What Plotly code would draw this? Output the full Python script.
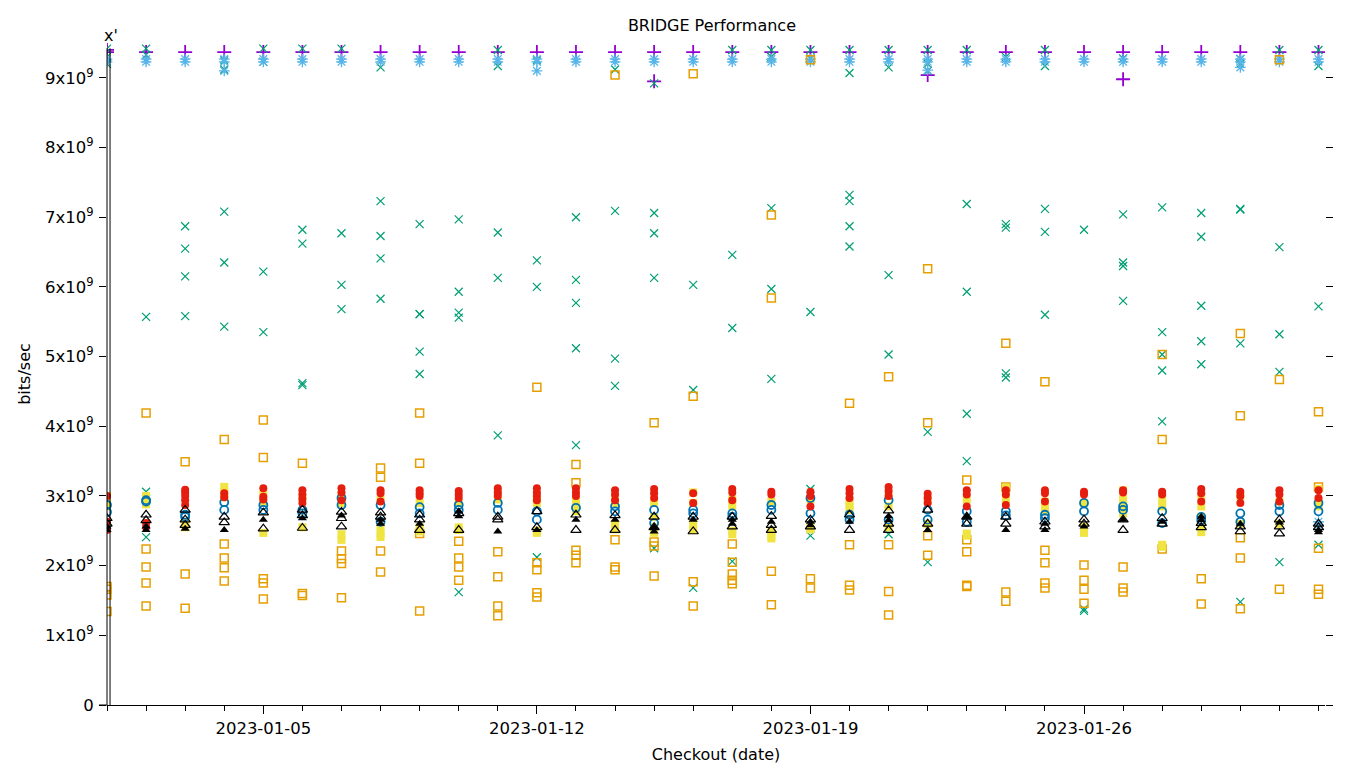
import pandas as pd
import plotly.graph_objects as go

days = pd.date_range("2023-01-01", "2023-02-01", freq="D")

# values in units of 1e9 bits/sec, one list per day
purple_plus = [[9.40, 9.37]] + [[9.37] for _ in range(31)]
purple_plus[14] = [9.37, 8.95]
purple_plus[21] = [9.37, 9.04]
purple_plus[26] = [9.37, 8.98]

green_x = [
    [9.42, 9.30, 9.20], [9.42, 9.33, 5.57, 3.06, 2.41], [6.87, 6.55, 6.15, 5.58],
    [9.25, 9.12, 7.08, 6.35, 5.43], [9.42, 9.23, 6.22, 5.35], [9.42, 6.82, 6.62, 4.62, 4.59],
    [9.42, 6.77, 6.03, 5.68], [9.15, 7.23, 6.73, 6.41, 5.83], [6.90, 5.61, 5.61, 5.07, 4.75],
    [6.97, 5.93, 5.63, 5.56, 1.62], [9.40, 9.17, 6.78, 6.13, 3.87], [9.25, 6.38, 6.00, 2.12],
    [7.00, 6.10, 5.77, 5.12, 3.73], [9.12, 7.09, 4.97, 4.58], [8.92, 7.06, 6.77, 6.13, 2.25],
    [6.03, 4.52, 1.68], [9.40, 6.46, 5.41, 2.06], [9.40, 9.30, 7.13, 5.97, 4.68],
    [9.40, 9.28, 5.64, 3.10, 2.43], [9.40, 9.07, 7.32, 7.23, 6.87, 6.58], [9.40, 9.15, 6.17, 5.03, 2.45],
    [9.40, 9.20, 9.10, 3.92, 2.05], [9.40, 7.19, 5.93, 4.18, 3.50], [9.30, 6.90, 6.85, 4.76, 4.70],
    [9.40, 9.17, 7.12, 6.79, 5.60], [6.82, 1.38, 1.35], [9.28, 7.04, 6.35, 6.30, 5.80],
    [7.14, 5.35, 5.03, 4.80, 4.07], [7.06, 6.72, 5.73, 5.22, 4.89], [9.27, 9.20, 7.12, 7.11, 5.19, 1.48],
    [9.40, 6.57, 5.32, 4.78, 2.05], [9.40, 9.17, 5.72, 2.30],
]

blue_star = [[9.27, 9.23] for _ in range(32)]
blue_star[3] = [9.27, 9.23, 9.10]
blue_star[11] = [9.27, 9.23, 9.10]
blue_star[21] = [9.27, 9.23, 9.11]
blue_star[29] = [9.27, 9.23, 9.15]
blue_star[31] = [9.27, 9.23, 2.63, 2.58]

orange_sq = [
    [1.70, 1.66, 1.58, 1.34], [4.19, 2.24, 1.98, 1.75, 1.42], [3.49, 1.88, 1.39],
    [3.81, 2.31, 2.11, 1.97, 1.78], [4.09, 3.55, 1.81, 1.75, 1.52], [3.47, 1.60, 1.57],
    [2.21, 2.10, 2.03, 1.54], [3.40, 3.27, 2.21, 1.91], [4.19, 3.47, 2.46, 1.35],
    [2.35, 2.11, 1.98, 1.79], [2.20, 1.84, 1.42, 1.28], [4.56, 2.04, 1.94, 1.61, 1.55],
    [3.45, 3.19, 2.22, 2.15, 2.04], [9.04, 2.37, 1.98, 1.94], [4.05, 2.34, 2.28, 1.85],
    [9.06, 4.43, 1.77, 1.42], [2.31, 2.05, 1.88, 1.79, 1.74], [7.03, 5.84, 1.92, 1.44],
    [9.26, 1.81, 1.68], [4.33, 2.30, 1.72, 1.65], [4.71, 2.30, 1.63, 1.29],
    [6.26, 4.05, 2.43, 2.15], [3.23, 2.37, 2.20, 1.72, 1.70], [5.19, 3.13, 1.62, 1.49],
    [4.64, 2.22, 2.04, 1.75, 1.68], [2.01, 1.79, 1.66, 1.46], [1.98, 1.68, 1.62],
    [5.03, 3.81, 2.24], [1.81, 1.45], [5.33, 4.15, 2.40, 2.11, 1.38],
    [9.26, 4.67, 1.66], [4.21, 3.13, 2.25, 1.66, 1.59],
]

yellow_sq = [
    [3.00, 2.92, 2.85], [3.00, 2.95, 2.88], [2.62, 2.55], [3.13, 3.05, 2.98],
    [3.02, 2.90, 2.47], [2.98, 2.55], [3.00, 2.90, 2.45, 2.37], [2.95, 2.55, 2.46, 2.41],
    [2.90, 2.55, 2.49], [2.90, 2.55, 2.51], [3.05, 2.95], [2.95, 2.90, 2.50, 2.47],
    [2.92, 2.85, 2.78], [2.98, 2.90, 2.60, 2.52], [2.90, 2.70, 2.55, 2.47], [3.05, 2.90, 2.60, 2.51],
    [2.95, 2.85, 2.50, 2.45], [2.92, 2.50, 2.42, 2.39], [2.95, 2.55, 2.52], [2.92, 2.85, 2.80],
    [3.00, 2.85, 2.55], [2.95, 2.60], [2.95, 2.46, 2.43], [3.12, 3.05, 2.95],
    [2.92, 2.85, 2.78], [2.90, 2.56, 2.47], [3.08, 2.95, 2.85, 2.75], [2.95, 2.85, 2.30, 2.27],
    [3.00, 2.85, 2.70, 2.55, 2.48], [3.00, 2.60], [2.92, 2.60], [3.10, 2.92, 2.85],
]

blue_circ = [
    [2.87, 2.77], [2.94, 2.92], [2.73, 2.70], [2.91, 2.80], [2.87, 2.80], [2.80, 2.75],
    [2.97, 2.87], [2.87, 2.63], [2.84, 2.75], [2.87, 2.80], [2.90, 2.80], [2.78, 2.66],
    [2.83], [2.85, 2.78], [2.80, 2.61], [2.80, 2.75], [2.75, 2.70], [2.87, 2.80],
    [2.97, 2.75], [2.73, 2.66], [2.94, 2.66], [2.80, 2.66], [2.78, 2.63], [2.78, 2.72],
    [2.73, 2.68], [2.90, 2.78], [2.85, 2.80], [2.78, 2.61], [2.70, 2.65], [2.75, 2.63],
    [2.87, 2.78], [2.90, 2.78],
]

red_dot = [
    [3.00, 2.63, 2.51], [2.61, 2.55], [3.09, 3.05, 3.00, 2.94, 2.87], [3.04, 2.98],
    [3.11, 2.99, 2.95], [3.08, 3.02, 2.96, 2.90], [3.11, 3.05, 2.94], [3.08, 3.04, 2.92],
    [3.08, 3.04, 3.00], [3.07, 3.02, 2.97], [3.11, 3.05, 3.00], [3.11, 3.05, 3.00, 2.94],
    [3.11, 3.05, 3.00], [3.08, 3.02, 2.94], [3.10, 3.04, 2.97], [3.04, 2.90],
    [3.10, 3.05, 2.94], [3.06, 3.02], [3.06, 3.00, 2.85], [3.10, 3.04, 2.97],
    [3.13, 3.07, 3.00], [3.03, 2.97, 2.90], [3.08, 3.02, 2.85], [3.08, 3.02, 2.87],
    [3.08, 3.04, 2.92], [3.06, 3.02], [3.08, 3.05], [3.06, 3.02],
    [3.10, 3.04, 2.92], [3.06, 3.00, 2.90], [3.08, 3.02, 2.92], [3.08, 2.97],
]

black_tri_open = [
    [2.68, 2.60], [2.73, 2.65], [2.80, 2.66, 2.58], [2.70, 2.62], [2.76, 2.53],
    [2.80, 2.72, 2.54], [2.77, 2.68, 2.56], [2.76, 2.70], [2.73, 2.66, 2.51], [2.75, 2.51],
    [2.70, 2.66], [2.78, 2.55], [2.73, 2.51], [2.72, 2.51], [2.70, 2.55], [2.70, 2.49],
    [2.70, 2.56], [2.71, 2.58, 2.51], [2.66, 2.56], [2.73, 2.51], [2.79, 2.60, 2.51],
    [2.80, 2.60], [2.70, 2.60], [2.70, 2.60], [2.63, 2.56], [2.66, 2.60], [2.66, 2.51],
    [2.68, 2.60], [2.61, 2.55], [2.56, 2.49], [2.66, 2.56, 2.46], [2.60, 2.55],
]

black_tri_fill = [
    [2.56, 2.51], [2.56, 2.51], [2.53], [2.51], [2.66], [2.68], [2.72], [2.66, 2.60],
    [2.60], [2.78, 2.71], [2.49], [2.51], [2.66], [2.66], [2.49, 2.55], [2.66],
    [2.66, 2.60], [2.63], [2.63, 2.58], [2.63], [2.71, 2.65], [2.51], [2.70], [2.51],
    [2.51, 2.60], [2.56], [2.66], [2.63], [2.70, 2.65], [2.60], [2.62], [2.51, 2.48],
]

y_ticks = [i * 1e9 for i in range(10)]
y_tick_text = ["0"] + [f"{i}x10<sup>9</sup>" for i in range(1, 10)]
x_ticks = ["2023-01-05", "2023-01-12", "2023-01-19", "2023-01-26"]

series = [
    (purple_plus, "cross-thin-open", "#9400d3", 10, 1.8),
    (green_x, "x-thin-open", "#009e73", 8, 1.2),
    (blue_star, "asterisk-open", "#56b4e9", 9, 1.3),
    (orange_sq, "square-open", "#e69f00", 8, 1.5),
    (yellow_sq, "square", "#f0e442", 8, 0),
    (blue_circ, "circle-open", "#0072b2", 8, 1.8),
    (red_dot, "circle", "#e51e10", 8, 0),
    (black_tri_open, "triangle-up-open", "#000000", 9, 1.2),
    (black_tri_fill, "triangle-up", "#000000", 8, 0),
]

fig = go.Figure()
for data, sym, col, size, lw in series:
    xs, ys = [], []
    for d, vals in zip(days, data):
        for v in vals:
            xs.append(d)
            ys.append(v * 1e9)
    marker = dict(symbol=sym, color=col, size=size)
    if lw:
        marker["line"] = dict(color=col, width=lw)
    fig.add_trace(go.Scatter(x=xs, y=ys, mode="markers", marker=marker,
                             showlegend=False, hoverinfo="skip"))

font = "DejaVu Sans, sans-serif"
fig.update_layout(
    width=1360, height=768,
    margin=dict(l=107, r=35, t=43, b=63, autoexpand=False),
    paper_bgcolor="white", plot_bgcolor="white",
    font=dict(family=font, size=16, color="black"),
    title=dict(text="BRIDGE Performance", x=0.5235, xanchor="center",
               y=0.9675, yanchor="middle", font=dict(size=16)),
    xaxis=dict(
        range=["2023-01-01", "2023-02-01 04:00"],
        tickvals=x_ticks, ticktext=x_ticks,
        ticks="outside", ticklen=8, tickcolor="black",
        tickfont=dict(size=16.5),
        minor=dict(dtick=86400000, tick0="2023-01-01", ticks="outside",
                   ticklen=5, tickcolor="black", showgrid=False),
        showgrid=False, zeroline=False, showline=True, linecolor="black",
        linewidth=1, automargin=False,
        title=dict(text="Checkout (date)", standoff=12, font=dict(size=16)),
    ),
    yaxis=dict(
        range=[0, 9.5e9], tickvals=y_ticks, ticktext=y_tick_text,
        ticks="outside", ticklen=7, tickcolor="black", mirror="ticks",
        tickfont=dict(size=16.5), ticklabelstandoff=2,
        showgrid=False, zeroline=False, showline=False, automargin=False,
        title=dict(text="bits/sec", standoff=10, font=dict(size=16)),
    ),
)
# double left axis line
fig.add_shape(type="line", xref="paper", yref="paper", x0=0, x1=0, y0=0, y1=0.992,
              line=dict(color="black", width=1))
fig.add_shape(type="line", xref="paper", yref="paper", x0=0.0025, x1=0.0025, y0=0, y1=0.992,
              line=dict(color="black", width=1))
fig.add_shape(type="line", xref="paper", yref="paper", x0=-0.0066, x1=0, y0=0, y1=0,
              line=dict(color="black", width=1))
fig.add_annotation(text="x'", xref="paper", yref="paper", x=0.003, y=1.012,
                   xanchor="center", yanchor="middle", showarrow=False,
                   font=dict(size=16, family=font))

fig.write_html("out.html", config={"displayModeBar": False},
               post_script="document.body.style.margin='0px';")
